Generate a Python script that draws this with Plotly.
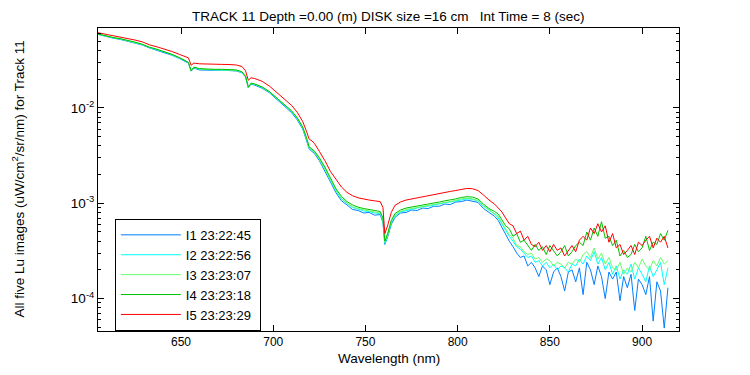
import plotly.graph_objects as go

wavelength = [605, 609, 613, 617, 621, 625, 629, 633, 637, 641,
              645, 649, 652, 654, 655.5, 657, 660, 664, 668, 672,
              676, 680, 683, 685, 686.5, 688, 690, 694, 698, 702,
              706, 710, 713, 716, 718, 719.5, 721, 722.5, 725, 728,
              731, 734, 737, 740, 743, 746, 749, 752, 755, 758,
              759.5, 760.5, 762, 764, 766, 769, 772, 775, 778, 781,
              784, 787, 790, 793, 796, 799, 802, 805, 808, 811,
              814, 817, 820,
              822, 824, 826, 828, 830, 832, 834, 836, 838, 840,
              842, 844, 846, 848, 850, 852, 854, 856, 858, 860,
              862, 864, 866, 868, 870, 872, 874, 876, 878, 880,
              882, 884, 886, 888, 890, 892, 894, 896, 898, 900,
              902, 904, 906, 908, 910, 912, 914]

i1_values = [0.0590, 0.0563, 0.0540, 0.0523, 0.0503, 0.0482, 0.0457, 0.0425, 0.0403, 0.0382,
             0.0357, 0.0331, 0.0312, 0.0295, 0.0243, 0.0262, 0.0250, 0.0248, 0.0248, 0.0249,
             0.0247, 0.0244, 0.0234, 0.0211, 0.0164, 0.0178, 0.0173, 0.0161, 0.0144, 0.0123,
             0.0105, 0.0089, 0.0075, 0.0060, 0.0046, 0.0037, 0.0035, 0.0033, 0.0028, 0.0022,
             0.00168, 0.00129, 0.00106, 0.00096, 0.00086, 0.00084, 0.00079, 0.00080, 0.00075, 0.00076,
             0.00063, 0.00037, 0.00044, 0.00060, 0.00071, 0.00079, 0.00080, 0.00085, 0.00084, 0.00089,
             0.00088, 0.00093, 0.00093, 0.00098, 0.00097, 0.00103, 0.00104, 0.00108, 0.00105, 0.00102,
             0.00088, 0.00081, 0.00073,
             0.00066, 0.00056, 0.00046, 0.00040, 0.00035, 0.00030, 0.00027, 0.00028, 0.00022, 0.00024,
             0.00021, 0.00017, 0.00022, 0.00020, 0.00014, 0.00019, 0.00021, 0.00017, 0.00012, 0.00019,
             0.00020, 0.00015, 0.00021, 0.00011, 0.00024, 0.00020, 0.00014, 0.00022, 0.00017, 0.00010,
             0.00019, 0.00016, 0.00019, 0.000095, 0.00017, 0.00013, 0.00018, 0.000075, 0.00016, 0.00014,
             0.00011, 0.00017, 0.000058, 0.00015, 0.00012, 0.000049, 0.00013]

i2_values = [0.0594, 0.0567, 0.0544, 0.0528, 0.0507, 0.0486, 0.0461, 0.0429, 0.0408, 0.0386,
             0.0361, 0.0335, 0.0315, 0.0298, 0.0244, 0.0265, 0.0255, 0.0252, 0.0251, 0.0251,
             0.0250, 0.0247, 0.0237, 0.0213, 0.0164, 0.0180, 0.0176, 0.0164, 0.0146, 0.0125,
             0.0107, 0.0091, 0.0077, 0.0061, 0.0048, 0.0038, 0.0036, 0.0034, 0.0029, 0.0023,
             0.00175, 0.00135, 0.00111, 0.00099, 0.00090, 0.00087, 0.00083, 0.00082, 0.00079, 0.00078,
             0.00066, 0.00038, 0.00046, 0.00063, 0.00074, 0.00081, 0.00084, 0.00087, 0.00089, 0.00092,
             0.00093, 0.00096, 0.00098, 0.00101, 0.00103, 0.00106, 0.00109, 0.00111, 0.00110, 0.00105,
             0.00093, 0.00084, 0.00077,
             0.00070, 0.00060, 0.00051, 0.00045, 0.00040, 0.00035, 0.00033, 0.00030, 0.00027, 0.00028,
             0.00024, 0.00025, 0.00022, 0.00024, 0.00021, 0.00023, 0.00020, 0.00022, 0.00021, 0.00019,
             0.00023, 0.00022, 0.00026, 0.00023, 0.00028, 0.00025, 0.00031, 0.00023, 0.00027, 0.00020,
             0.00024, 0.00018, 0.00022, 0.00016, 0.00020, 0.00018, 0.00023, 0.00016, 0.00021, 0.00018,
             0.00015, 0.00022, 0.00017, 0.00020, 0.00024, 0.00014, 0.00021]

i3_values = [0.0595, 0.0568, 0.0546, 0.0530, 0.0509, 0.0488, 0.0463, 0.0431, 0.0410, 0.0388,
             0.0363, 0.0336, 0.0316, 0.0299, 0.0244, 0.0266, 0.0256, 0.0253, 0.0252, 0.0252,
             0.0251, 0.0248, 0.0238, 0.0214, 0.0164, 0.0181, 0.0177, 0.0165, 0.0147, 0.0126,
             0.0108, 0.0092, 0.0078, 0.0062, 0.0048, 0.0038, 0.0036, 0.0034, 0.0029, 0.0023,
             0.00177, 0.00137, 0.00113, 0.00100, 0.00092, 0.00088, 0.00085, 0.00083, 0.00081, 0.00079,
             0.00067, 0.00039, 0.00046, 0.00064, 0.00075, 0.00082, 0.00086, 0.00088, 0.00091, 0.00093,
             0.00095, 0.00097, 0.00100, 0.00102, 0.00104, 0.00107, 0.00111, 0.00113, 0.00111, 0.00107,
             0.00094, 0.00085, 0.00078,
             0.00073, 0.00062, 0.00054, 0.00047, 0.00043, 0.00036, 0.00035, 0.00031, 0.00029, 0.00030,
             0.00026, 0.00027, 0.00024, 0.00026, 0.00025, 0.00022, 0.00024, 0.00023, 0.00021, 0.00024,
             0.00023, 0.00026, 0.00024, 0.00029, 0.00031, 0.00027, 0.00034, 0.00026, 0.00030, 0.00023,
             0.00027, 0.00021, 0.00020, 0.00024, 0.00018, 0.00021, 0.00019, 0.00024, 0.00021, 0.00026,
             0.00022, 0.00020, 0.00025, 0.00022, 0.00027, 0.00023, 0.00025]

i4_values = [0.0596, 0.0570, 0.0548, 0.0532, 0.0512, 0.0490, 0.0465, 0.0432, 0.0412, 0.0390,
             0.0365, 0.0338, 0.0318, 0.0300, 0.0245, 0.0268, 0.0258, 0.0255, 0.0254, 0.0254,
             0.0253, 0.0250, 0.0240, 0.0215, 0.0165, 0.0182, 0.0178, 0.0166, 0.0148, 0.0127,
             0.0109, 0.0093, 0.0079, 0.0063, 0.0049, 0.0039, 0.0037, 0.0035, 0.0030, 0.0024,
             0.00185, 0.00142, 0.00118, 0.00104, 0.00096, 0.00091, 0.00088, 0.00086, 0.00084, 0.00082,
             0.00070, 0.00040, 0.00048, 0.00066, 0.00078, 0.00085, 0.00089, 0.00091, 0.00094, 0.00096,
             0.00098, 0.00100, 0.00103, 0.00106, 0.00108, 0.00111, 0.00115, 0.00117, 0.00116, 0.00111,
             0.00098, 0.00088, 0.00082,
             0.00077, 0.00067, 0.00058, 0.00054, 0.00045, 0.00048, 0.00039, 0.00041, 0.00036, 0.00032,
             0.00037, 0.00032, 0.00035, 0.00029, 0.00036, 0.00032, 0.00028, 0.00031, 0.00036, 0.00028,
             0.00031, 0.00036, 0.00039, 0.00036, 0.00050, 0.00041, 0.00055, 0.00045, 0.00064, 0.00043,
             0.00045, 0.00036, 0.00041, 0.00028, 0.00032, 0.00027, 0.00029, 0.00037, 0.00031, 0.00034,
             0.00045, 0.00032, 0.00039, 0.00037, 0.00048, 0.00041, 0.00052]

i5_values = [0.0614, 0.0593, 0.0570, 0.0559, 0.0538, 0.0515, 0.0493, 0.0458, 0.0437, 0.0417,
             0.0391, 0.0365, 0.0347, 0.0335, 0.0280, 0.0295, 0.0290, 0.0287, 0.0286, 0.0286,
             0.0285, 0.0282, 0.0272, 0.0245, 0.0195, 0.0207, 0.0203, 0.0190, 0.0169, 0.0145,
             0.0124, 0.0106, 0.0090, 0.0072, 0.0057, 0.0047, 0.0045, 0.0042, 0.0035, 0.0028,
             0.00216, 0.00177, 0.00148, 0.00130, 0.00120, 0.00114, 0.00110, 0.00108, 0.00106, 0.00104,
             0.00090, 0.00048, 0.00058, 0.00080, 0.00095, 0.00103, 0.00108, 0.00111, 0.00115, 0.00117,
             0.00120, 0.00123, 0.00126, 0.00130, 0.00133, 0.00136, 0.00140, 0.00143, 0.00142, 0.00136,
             0.00122, 0.00108, 0.00098,
             0.00089, 0.00081, 0.00070, 0.00061, 0.00058, 0.00048, 0.00051, 0.00041, 0.00045, 0.00037,
             0.00035, 0.00039, 0.00032, 0.00036, 0.00031, 0.00037, 0.00032, 0.00034, 0.00028, 0.00032,
             0.00036, 0.00031, 0.00041, 0.00045, 0.00041, 0.00055, 0.00048, 0.00061, 0.00050, 0.00058,
             0.00039, 0.00048, 0.00034, 0.00037, 0.00029, 0.00032, 0.00036, 0.00029, 0.00039, 0.00036,
             0.00041, 0.00045, 0.00034, 0.00043, 0.00039, 0.00045, 0.00034]

series_names = ["I1 23:22:45", "I2 23:22:56", "I3 23:23:07", "I4 23:23:18", "I5 23:23:29"]
series_values = [i1_values, i2_values, i3_values, i4_values, i5_values]
series_colors = ["#0080ff", "#00ffff", "#66ff66", "#00c000", "#ff0000"]

y_tick_vals = [1e-4, 1e-3, 1e-2]
y_tick_text = ["10<sup>-4</sup>", "10<sup>-3</sup>", "10<sup>-2</sup>"]
y_minor_vals = [5e-5, 6e-5, 7e-5, 8e-5, 9e-5,
                2e-4, 3e-4, 4e-4, 5e-4, 6e-4, 7e-4, 8e-4, 9e-4,
                2e-3, 3e-3, 4e-3, 5e-3, 6e-3, 7e-3, 8e-3, 9e-3,
                2e-2, 3e-2, 4e-2, 5e-2, 6e-2]
x_tick_vals = [650, 700, 750, 800, 850, 900]

FONT = "Liberation Sans, Arial, sans-serif"

fig = go.Figure()
for name, vals, col in zip(series_names, series_values, series_colors):
    fig.add_trace(go.Scatter(x=wavelength, y=vals, mode="lines",
                             name=name + "\u00a0",
                             line=dict(color=col, width=1)))

fig.update_layout(
    width=742, height=367,
    margin=dict(l=90, r=71, t=20, b=44),
    paper_bgcolor="white", plot_bgcolor="white",
    font=dict(family=FONT, size=12, color="black"),
    showlegend=True,
    legend=dict(x=0.029, y=0.37, xanchor="left", yanchor="top",
                bordercolor="black", borderwidth=1, bgcolor="white",
                font=dict(family=FONT, size=13, color="black"),
                tracegroupgap=0, itemwidth=60),
    xaxis=dict(range=[605, 920], tickvals=x_tick_vals, ticks="inside", ticklen=6,
               tickcolor="black", showline=True, linecolor="black", linewidth=1,
               mirror="ticks", showgrid=False, zeroline=False,
               tickfont=dict(family=FONT, size=12)),
    yaxis=dict(type="log", range=[-4.34, -1.162], tickmode="array",
               tickvals=y_tick_vals, ticktext=y_tick_text, ticks="inside", ticklen=6,
               tickcolor="black", showline=True, linecolor="black", linewidth=1,
               mirror="ticks", showgrid=False, zeroline=False,
               tickfont=dict(family=FONT, size=13.5),
               minor=dict(tickmode="array", tickvals=y_minor_vals, ticks="inside",
                          ticklen=3, tickcolor="black", showgrid=False)),
    annotations=[
        dict(text="TRACK 11 Depth =0.00 (m) DISK size =16 cm\u00a0\u00a0\u00a0Int Time = 8 (sec)",
             xref="paper", yref="paper", x=0.5, y=1, yshift=12, showarrow=False,
             xanchor="center", yanchor="middle", font=dict(family=FONT, size=13.5)),
        dict(text="Wavelength (nm)", xref="paper", yref="paper", x=0.5, y=0, yshift=-27,
             showarrow=False, xanchor="center", yanchor="middle", font=dict(family=FONT, size=13.5)),
        dict(text="All five Lu images (uW/cm<sup>2</sup>/sr/nm) for Track 11", xref="paper",
             yref="paper", x=0, xshift=-80, y=0.5, textangle=-90, showarrow=False,
             xanchor="center", yanchor="middle", font=dict(family=FONT, size=13.5)),
    ],
)

fig.write_html("out.html")
